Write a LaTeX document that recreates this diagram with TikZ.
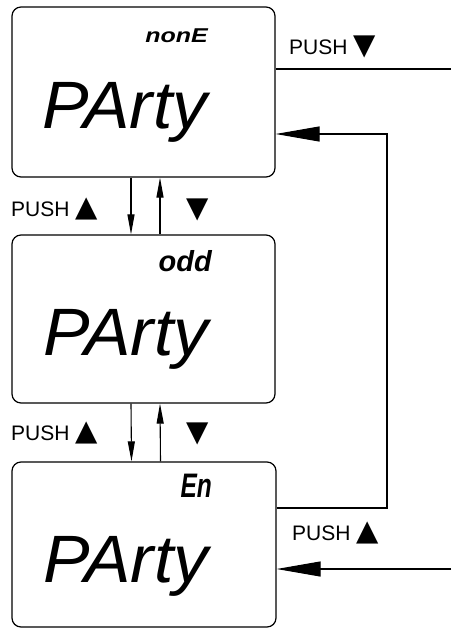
\documentclass[tikz,border=0pt]{standalone}
\usepackage{fontspec}
\setmainfont{Liberation Sans}
\newfontfamily\symfont{DejaVu Sans}
\usetikzlibrary{arrows.meta}
\newcommand{\trisize}{\symfont\fontsize{29}{29}\selectfont}
\begin{document}
\begin{tikzpicture}[x=1pt,y=-1pt,
  lcd/.style={draw, line width=1.2pt, rounded corners=9pt, inner sep=0pt},
  bigtxt/.style={font=\fontsize{67}{67}\selectfont\itshape, anchor=base west, inner sep=0pt},
  smalltxt/.style={anchor=base east, inner sep=0pt},
  lbl/.style={font=\fontsize{21}{21}\selectfont, anchor=base west, inner sep=0pt},
  tri/.style={font=\trisize, anchor=base west, inner sep=0pt},
  thinarr/.style={line width=1.1pt, -{Triangle[length=20pt,width=7pt]}},
  fatarr/.style={line width=1.1pt, -{Triangle[length=44pt,width=15pt]}},
  plainline/.style={line width=1.1pt}]
\useasboundingbox (0,0) rectangle (451,629);

% display boxes
\node[lcd, minimum width=263pt, minimum height=170pt] (b1) at (143.5,92) {};
\node[lcd, minimum width=263pt, minimum height=168pt] (b2) at (143.5,319) {};
\node[lcd, minimum width=264pt, minimum height=165pt] (b3) at (144,544.5) {};

% display contents
\node[smalltxt] (s1) at (208,42) {\scalebox{1.25}[1]{\fontsize{20}{20}\selectfont\bfseries\itshape nonE}};
\node[bigtxt] (p1) at (42,128) {\scalebox{1.04}[1]{PArty}};
\node[smalltxt] (s2) at (212,271) {\fontsize{29}{29}\selectfont\bfseries\itshape odd};
\node[bigtxt] (p2) at (43,355) {\scalebox{1.04}[1]{PArty}};
\node[smalltxt] (s3) at (212,497) {\scalebox{0.72}[1]{\fontsize{34}{34}\selectfont\bfseries\itshape En}};
\node[bigtxt] (p3) at (43,582) {\scalebox{1.04}[1]{PArty}};

% labels
\node[lbl] (l1) at (289,54) {PUSH {\trisize ▼}};
\node[lbl] (l2) at (11,216) {PUSH {\trisize ▲}};
\node[tri] (l3) at (186,217) {▼};
\node[lbl] (l4) at (11,440) {PUSH {\trisize ▲}};
\node[tri] (l5) at (186,441) {▼};
\node[lbl] (l6) at (292,540) {PUSH {\trisize ▲}};

% vertical arrows between displays
\draw[thinarr] ([xshift=-12.5pt]b1.south) -- ([xshift=-12.5pt]b2.north);
\draw[thinarr] ([xshift=16.5pt]b2.north) -- ([xshift=16.5pt]b1.south);
\draw[thinarr] ([xshift=-12.5pt]b2.south) -- ([xshift=-12.5pt]b3.north);
\draw[thinarr] ([xshift=16.5pt]b3.north) -- ([xshift=16.5pt]b2.south);

% right side connectors
\coordinate (e1) at (451,69);
\coordinate (rt) at (387,134);
\coordinate (e3) at (451,569);
\draw[plainline] ([yshift=23pt]b1.east) -- (e1);
\draw[fatarr] ([yshift=36.5pt]b3.east) -| (rt) -- ([yshift=-42pt]b1.east);
\draw[fatarr] (e3) -- ([yshift=-24.5pt]b3.east);
\end{tikzpicture}
\end{document}
